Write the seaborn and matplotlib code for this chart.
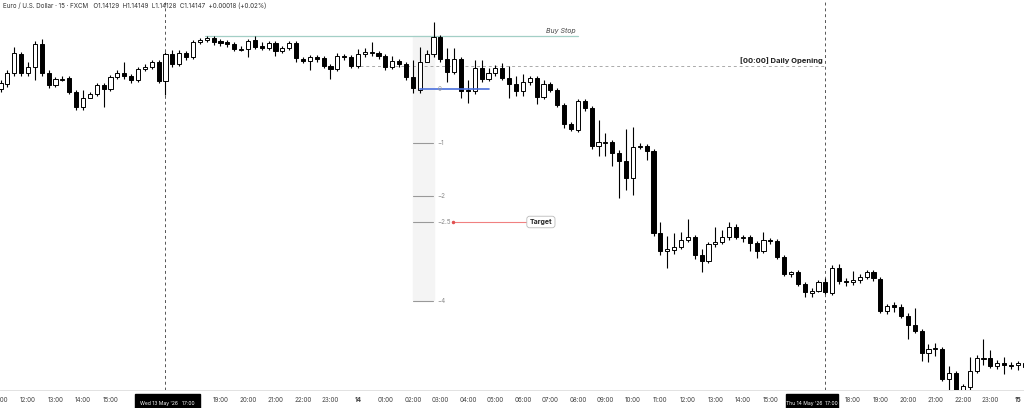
import matplotlib
matplotlib.use("Agg")
import matplotlib.pyplot as plt
import seaborn as sns
import numpy as np
from matplotlib.patches import Rectangle

sns.set_style("white")
plt.rcParams['font.family'] = ['Inter', 'DejaVu Sans']

# price levels expressed in chart-vertical units (larger = lower price)
opens = [89,84,73,54,73,67,44,73,85,79,78,92,107,98,94,85,89,77,73,76,80,69,67,62,81,54,64,53,57,42,
         40,38,41,42,44,49,49,40,46,48,43,51,48,43,59,61,57,58,66,69,56,57,66,54,53,53,56,67,61,64,
         77,90,62,54,37,59,72,59,90,91,68,79,73,68,78,84,91,82,78,97,84,90,105,124,130,101,108,146,142,142,
         153,161,178,147,146,151,233,251,250,247,240,237,255,261,244,242,237,227,237,237,243,251,240,241,257,274,272,284,293,291,
         282,293,268,281,282,280,277,272,279,311,305,307,316,325,331,353,348,349,379,373,390,387,371,358,358,366,363,365,365,363]
closes = [83,73,53,73,67,44,73,85,79,79,92,107,98,94,85,89,77,73,76,80,69,67,62,81,54,64,53,57,42,40,
          38,42,43,44,49,49,41,47,48,43,51,48,43,58,61,57,59,66,69,56,57,66,54,52,52,56,67,61,64,77,
          88,62,54,37,59,72,59,91,91,68,79,73,68,78,84,91,82,78,97,84,90,105,124,129,101,108,146,142,142,153,
          161,178,147,146,151,233,251,249,247,240,237,255,261,244,242,237,227,237,237,243,251,240,241,257,274,272,284,292,291,282,
          292,268,281,282,280,277,272,278,311,306,307,316,325,331,353,349,348,379,373,390,386,371,358,358,366,363,365,366,363,367]
highs = [80,70,47,52,62,41,39,70,77,76,76,90,90,92,83,83,75,70,62,74,67,64,60,60,52,50,50,51,40,38,
         36,36,39,40,42,46,39,36,42,41,41,46,41,41,57,55,55,56,64,53,54,55,49,48,42,51,54,56,59,62,
         60,47,50,22,35,48,48,57,80,60,60,68,65,63,66,76,74,76,76,80,82,88,103,122,99,99,106,120,133,140,
         150,129,127,143,144,149,222,236,233,232,219,235,249,242,227,230,222,224,235,235,241,232,238,239,255,271,270,282,288,280,
         278,265,264,278,271,274,270,270,277,304,302,304,313,308,329,344,343,347,366,371,384,357,355,339,350,360,357,362,361,360]
lows = [92,87,76,76,76,80,76,88,87,81,94,110,110,97,96,107,91,79,79,83,82,71,69,83,95,67,66,60,59,44,
        42,45,46,47,51,51,57,49,50,50,56,53,50,62,63,70,62,68,79,71,60,68,68,57,56,59,70,69,67,80,
        93,93,58,57,62,82,74,98,103,94,82,81,76,80,98,96,96,85,104,99,92,107,128,131,132,111,149,156,156,166,
        198,190,195,149,160,236,255,268,254,249,242,259,272,263,247,244,240,239,242,251,258,253,244,259,276,277,286,297,297,292,
        294,295,284,286,285,283,279,281,313,314,312,318,339,333,361,362,356,381,394,392,396,390,373,365,368,369,374,369,370,369]

tick_labels = ["11:00","12:00","13:00","14:00","15:00","","","","19:00","20:00","21:00","22:00","23:00","14",
               "01:00","02:00","03:00","04:00","05:00","06:00","07:00","08:00","09:00","10:00","11:00","12:00","13:00","14:00",
               "15:00","","","18:00","19:00","20:00","21:00","22:00","23:00","15"]
levels = [0, -1, -2, -2.5, -4]
level_y = [89, 143, 196, 222, 301]

fig = plt.figure(figsize=(10.24, 4.08), dpi=100)
ax = fig.add_axes([0, 18/408, 1, 390/408])
n = len(opens)
idx = np.arange(n)
ax.set_xlim(-0.073, 148.9)
ax.set_ylim(390, 0)

o = np.array(opens); c = np.array(closes)
ax.vlines(idx, highs, lows, color="black", lw=0.8, zorder=3)
bottom = np.minimum(o, c)
height = np.maximum(np.abs(c - o), 0.8)
fc = np.where(c > o, "black", "white")
ax.bar(idx, height, bottom=bottom, width=0.6, color=fc, edgecolor="black", linewidth=0.7, zorder=4)

def px(x):
    return (x - 0.5) / 6.875

for xv in [165, 825]:
    ax.axvline(px(xv), color="#555555", lw=0.7, ls=(0, (3, 3)), zorder=1)

ax.add_patch(Rectangle((px(413), 36), px(434) - px(413), 264, color="#f4f4f4", zorder=0))
for ly, lv in zip(level_y, levels):
    if lv == 0:
        ax.plot([px(420), px(489)], [ly, ly], color="#4a6fdc", lw=1.2, zorder=5)
        ax.text(px(438), ly, "0", fontsize=4.5, color="#999999", va="center", zorder=6)
    else:
        ax.plot([px(413), px(433)], [ly, ly], color="#999999", lw=0.8, zorder=1)
        ax.text(px(437), ly, f"{lv:g}".replace("-", "−"), fontsize=4.5, color="#888888", va="center")

ax.plot([px(453), px(529)], [222, 222], color="#f08080", lw=0.8, zorder=2)
ax.plot(px(453), 222, marker="o", ms=1.5, color="#e05050")
ax.text(px(541), 222, "Target", fontsize=5, fontweight="bold", ha="center", va="center",
        bbox=dict(boxstyle="round,pad=0.4", fc="white", ec="#bbbbbb", lw=0.6), zorder=6)

ax.plot([px(205), px(578)], [36, 36], color="#a3cfc6", lw=0.9, zorder=2)
ax.text(px(576), 31, "Buy Stop", fontsize=5, style="italic", color="#444444", ha="right", va="center")

ax.plot([px(360), px(825)], [66, 66], color="#aaaaaa", lw=0.7, ls=(0, (3, 3)), zorder=1)
ax.text(px(823), 61, "[00:00] Daily Opening", fontsize=5.5, fontweight="bold", color="#222222", ha="right", va="center")

ax.text(px(3), 6, "Euro / U.S. Dollar · 15 · FXCM   O1.14129  H1.14149  L1.14128  C1.14147  +0.00018 (+0.02%)",
        fontsize=4.5, color="#333333", va="center")

ticks = np.arange(0, 4 * len(tick_labels), 4)
ax.set_xticks(ticks)
ax.set_xticklabels(tick_labels, fontsize=4.5, color="#444444")
for t in ax.get_xticklabels():
    if t.get_text() in ("14", "15"):
        t.set_fontweight("bold")
ax.tick_params(axis="x", length=0, pad=5)
ax.set_yticks([])
for s in ax.spines.values():
    s.set_visible(False)
ax.spines["bottom"].set_visible(True)
ax.spines["bottom"].set_color("#dddddd")
ax.spines["bottom"].set_linewidth(0.6)

for x0, x1, lab in [(135, 200, "Wed 13 May '26   17:00"), (786, 838, "Thu 14 May '26  17:00")]:
    fig.patches.append(Rectangle((x0 / 1024, 0), (x1 - x0) / 1024, 14 / 408, transform=fig.transFigure,
                                 color="black", zorder=10))
    fig.text((x0 + x1) / 2 / 1024, 5 / 408, lab, fontsize=3.6, color="white", ha="center", va="center", zorder=11)

fig.savefig("out.png", dpi=100, facecolor="white")
